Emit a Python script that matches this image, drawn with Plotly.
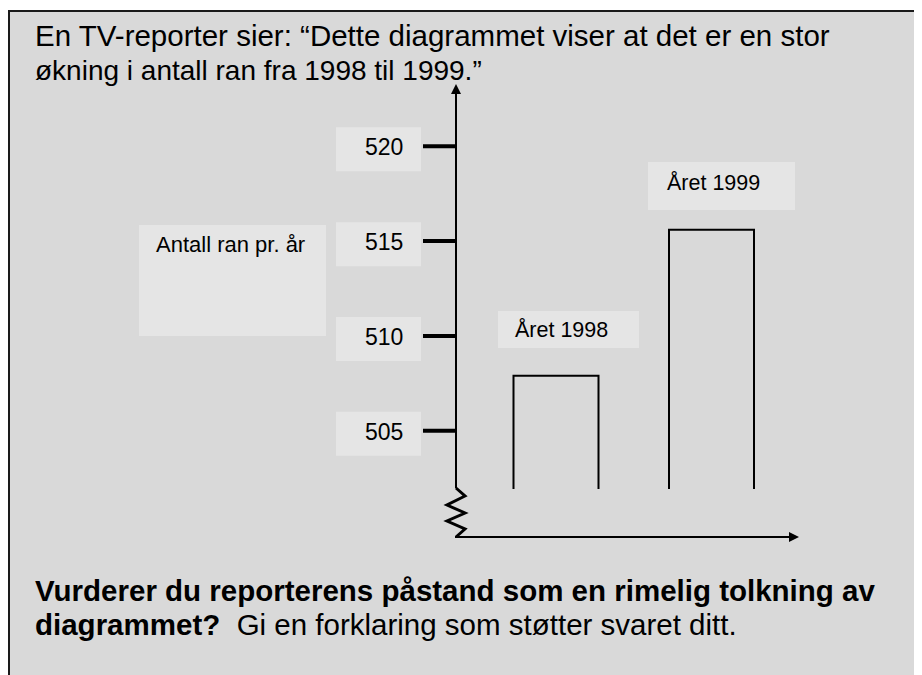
import plotly.graph_objects as go

# ---- data ----
years = ["Året 1998", "Året 1999"]
robberies = [507.9, 515.6]
tick_values = [505, 510, 515, 520]
tick_labels = ["505", "510", "515", "520"]
axis_label = "Antall ran pr. år"
title_lines = ["En TV-reporter sier: \u201cDette diagrammet viser at det er en stor",
               "økning i antall ran fra 1998 til 1999.\u201d"]
question_lines = ["<b>Vurderer du reporterens påstand som en rimelig tolkning av</b>",
                  "<b>diagrammet?</b>\u00a0 Gi en forklaring som støtter svaret ditt."]

W, H = 922, 675
OFF = 8  # page offset of the plot (body margin)

# y scale: value 505 at page pixel 430.7, 18.96 px per unit
PX_PER_UNIT = 18.96
Y0_VAL, Y0_PX = 505, 430.7

def yv(p):  # page pixel -> value
    return Y0_VAL + (Y0_PX - p) / PX_PER_UNIT

def px(x):  # page pixel -> paper x
    return (x - OFF) / W

def py(y):  # page pixel -> paper y
    return 1 - (y - OFF) / H

FONT = "Liberation Sans, Arial, Helvetica, sans-serif"
BG = "#d9d9d9"
BOX = "#e5e5e5"

fig = go.Figure()

# bars (open bottom) drawn from the values through the y scale
bar_base = yv(489)
bar_centers = [556, 711.5]
half_w = 42.5
for i, (name, v) in enumerate(zip(years, robberies)):
    c = bar_centers[i]
    fig.add_trace(go.Scatter(
        x=[c - half_w, c - half_w, c + half_w, c + half_w],
        y=[bar_base, v, v, bar_base],
        mode="lines", line=dict(color="black", width=2),
        hoverinfo="skip", showlegend=False, name=name))

# tick marks
for t in tick_values:
    fig.add_trace(go.Scatter(
        x=[423, 456], y=[t, t], mode="lines",
        line=dict(color="black", width=4), hoverinfo="skip", showlegend=False))

shapes = []
# outer frame
shapes.append(dict(type="rect", xref="paper", yref="paper",
                   x0=px(9), x1=px(960), y0=py(720), y1=py(11),
                   fillcolor=BG, line=dict(color="#1a1a1a", width=2), layer="below"))
# tick label boxes
for t in tick_values:
    shapes.append(dict(type="rect", xref="paper", yref="y",
                       x0=px(336), x1=px(421), y0=t - 1.32, y1=t + 1.0,
                       fillcolor=BOX, line=dict(width=0), layer="below"))
# axis label box
shapes.append(dict(type="rect", xref="paper", yref="paper",
                   x0=px(139), x1=px(326), y0=py(336), y1=py(225),
                   fillcolor=BOX, line=dict(width=0), layer="below"))
# bar label boxes
shapes.append(dict(type="rect", xref="paper", yref="paper",
                   x0=px(498), x1=px(639), y0=py(348), y1=py(311),
                   fillcolor=BOX, line=dict(width=0), layer="below"))
shapes.append(dict(type="rect", xref="paper", yref="paper",
                   x0=px(648), x1=px(795), y0=py(210), y1=py(162),
                   fillcolor=BOX, line=dict(width=0), layer="below"))
# vertical axis line (below arrow head)
shapes.append(dict(type="line", xref="paper", yref="paper",
                   x0=px(456), x1=px(456), y0=py(488), y1=py(92),
                   line=dict(color="black", width=2)))
# zigzag break
zz = [(456, 488), (465, 496), (447, 505), (465, 513), (447, 521), (465, 529), (456, 537)]
path = "M " + " L ".join(f"{px(x):.5f},{py(y):.5f}" for x, y in zz)
shapes.append(dict(type="path", xref="paper", yref="paper", path=path,
                   line=dict(color="black", width=3)))
# horizontal axis line
shapes.append(dict(type="line", xref="paper", yref="paper",
                   x0=px(455), x1=px(790), y0=py(537), y1=py(537),
                   line=dict(color="black", width=2)))

annotations = []
# arrow heads
annotations.append(dict(xref="paper", yref="paper", x=px(456), y=py(84),
                        axref="pixel", ayref="pixel", ax=0, ay=30, text="",
                        showarrow=True, arrowhead=2, arrowsize=1, arrowwidth=2,
                        arrowcolor="black", standoff=0))
annotations.append(dict(xref="paper", yref="paper", x=px(799), y=py(537),
                        axref="pixel", ayref="pixel", ax=-30, ay=0, text="",
                        showarrow=True, arrowhead=2, arrowsize=1, arrowwidth=2,
                        arrowcolor="black", standoff=0))
# tick labels
for t, lab in zip(tick_values, tick_labels):
    annotations.append(dict(xref="paper", yref="y", x=px(384), y=t, yshift=-1,
                            text=lab, showarrow=False, xanchor="center", yanchor="middle",
                            font=dict(family=FONT, size=23, color="black")))
# axis label
annotations.append(dict(xref="paper", yref="paper", x=px(154), y=py(244),
                        text=axis_label, showarrow=False, xanchor="left", yanchor="middle",
                        font=dict(family=FONT, size=22, color="black")))
# bar labels
label_pos = [(513, 330), (665, 183)]
for name, (lx, ly) in zip(years, label_pos):
    annotations.append(dict(xref="paper", yref="paper", x=px(lx), y=py(ly),
                            text=name, showarrow=False, xanchor="left", yanchor="middle",
                            font=dict(family=FONT, size=21.5, color="black")))
# title and question, one annotation per line
for line, cy, fs in zip(title_lines, [35, 70], [29.5, 28]):
    annotations.append(dict(xref="paper", yref="paper", x=px(33), y=py(cy),
                            text=line, showarrow=False, xanchor="left", yanchor="middle",
                            align="left", font=dict(family=FONT, size=fs, color="black")))
for line, cy in zip(question_lines, [590, 624]):
    annotations.append(dict(xref="paper", yref="paper", x=px(33), y=py(cy),
                            text=line, showarrow=False, xanchor="left", yanchor="middle",
                            align="left", font=dict(family=FONT, size=29.5, color="black")))

fig.update_layout(
    width=W, height=H, margin=dict(l=0, r=0, t=0, b=0),
    paper_bgcolor="white", plot_bgcolor="rgba(0,0,0,0)",
    xaxis=dict(range=[OFF, W + OFF], visible=False, fixedrange=True),
    yaxis=dict(range=[yv(H + OFF), yv(OFF)], visible=False, fixedrange=True),
    shapes=shapes, annotations=annotations, showlegend=False,
)

fig.write_html("out.html")
